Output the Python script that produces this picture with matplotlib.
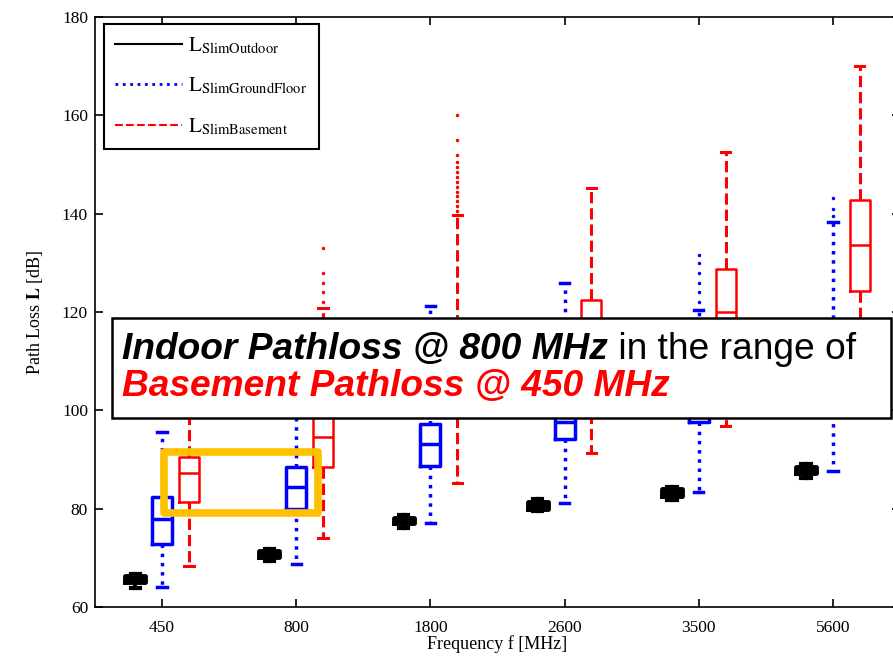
import numpy as np
import matplotlib.pyplot as plt
from matplotlib.lines import Line2D
from matplotlib.patches import Rectangle

plt.rcParams['font.family'] = 'Liberation Serif'
plt.rcParams['mathtext.fontset'] = 'stix'

freqs = ["450", "800", "1800", "2600", "3500", "5600"]

# box statistics: whisker low, q1, median, q3, whisker high
outdoor_lo = [63.9, 69.4, 76.0, 79.5, 81.8, 86.3]
outdoor_q1 = [65.0, 70.2, 77.0, 80.0, 82.6, 87.2]
outdoor_med = [65.7, 70.7, 77.5, 80.6, 83.2, 87.8]
outdoor_q3 = [66.3, 71.3, 78.2, 81.3, 83.9, 88.5]
outdoor_hi = [66.7, 71.8, 78.8, 82.0, 84.4, 89.0]

ground_lo = [64.0, 68.7, 77.0, 81.2, 83.4, 87.6]
ground_q1 = [72.8, 80.0, 88.7, 94.2, 97.6, 103.0]
ground_med = [77.8, 84.4, 93.2, 97.6, 103.0, 108.0]
ground_q3 = [82.3, 88.5, 97.2, 99.5, 108.0, 113.0]
ground_hi = [95.6, 104.0, 121.2, 126.0, 120.4, 138.3]
ground_out = [[], [], [], [], [122, 124, 126, 128, 130, 131.5], [139.5, 141, 143.2]]

base_lo = [68.3, 74.0, 85.2, 91.3, 96.8, 110.0]
base_q1 = [81.4, 88.5, 102.0, 103.0, 108.0, 124.3]
base_med = [87.2, 94.6, 108.0, 112.0, 120.0, 133.6]
base_q3 = [90.5, 101.0, 114.0, 122.4, 128.8, 142.8]
base_hi = [104.0, 120.8, 139.7, 145.2, 152.5, 170.1]
base_out = [[], [122, 124, 126, 128, 133],
            [140.5, 141.5, 142.5, 143.5, 144.5, 145.5, 146.5, 147.5, 148.5,
             149.5, 150.5, 152, 155, 160], [], [], []]


def make_stats(lo, q1, med, q3, hi, out=None):
    out = out or [[] for _ in lo]
    return [dict(whislo=a, q1=b, med=c, q3=d, whishi=e, fliers=f)
            for a, b, c, d, e, f in zip(lo, q1, med, q3, hi, out)]


fig = plt.figure(figsize=(8.93, 6.58), dpi=100)
ax = fig.add_axes([95 / 893, 51 / 658, 805 / 893, 590 / 658])
pos = np.arange(1, len(freqs) + 1)


def draw(stats, offset, color, ls, lw, wlw):
    ax.bxp(stats, positions=pos + offset, widths=0.15, capwidths=0.07,
           manage_ticks=False,
           boxprops=dict(color=color, linewidth=lw),
           medianprops=dict(color=color, linewidth=lw),
           whiskerprops=dict(color=color, linestyle=ls, linewidth=wlw),
           capprops=dict(color=color, linewidth=wlw),
           flierprops=dict(marker='.', markersize=3, markerfacecolor=color,
                           markeredgecolor=color))


draw(make_stats(outdoor_lo, outdoor_q1, outdoor_med, outdoor_q3, outdoor_hi),
     -0.2, 'black', '-', 3.5, 3)
draw(make_stats(ground_lo, ground_q1, ground_med, ground_q3, ground_hi, ground_out),
     0.0, 'blue', ':', 2.5, 2.5)
draw(make_stats(base_lo, base_q1, base_med, base_q3, base_hi, base_out),
     0.2, 'red', '--', 1.8, 2.2)

ax.set_xlim(0.5, 6.5)
ax.set_ylim(60, 180)
ax.set_xticks(pos)
ax.set_xticklabels(freqs)
ax.set_yticks(range(60, 181, 20))
ax.tick_params(direction='in', top=True, right=True, length=6, width=1.2,
               labelsize=12.5)
ax.tick_params(axis='x', pad=9)
ax.tick_params(axis='y', pad=5)
for s in ax.spines.values():
    s.set_linewidth(1.2)
ax.set_xlabel('Frequency f [MHz]', fontsize=13, labelpad=0)
ax.set_ylabel(r'Path Loss $\mathbf{L}$ [dB]', fontsize=13, labelpad=12)

handles = [Line2D([], [], color='black', ls='-', lw=1.5),
           Line2D([], [], color='blue', ls=':', lw=2),
           Line2D([], [], color='red', ls='--', lw=1.5)]
labels = [r'$\mathrm{L}_{\mathrm{SlimOutdoor}}$',
          r'$\mathrm{L}_{\mathrm{SlimGroundFloor}}$',
          r'$\mathrm{L}_{\mathrm{SlimBasement}}$']
leg = ax.legend(handles, labels, loc='upper left', bbox_to_anchor=(0.011, 0.988),
                borderaxespad=0, fancybox=False, edgecolor='black', fontsize=15,
                handlelength=3.2, handletextpad=0.3, labelspacing=0.95,
                borderpad=0.55, framealpha=1)
leg.get_frame().set_linewidth(1.5)

# orange highlight frame
ax.add_patch(Rectangle((1.014, 79.1), 1.148, 12.4, fill=False,
                       edgecolor='#FFC000', linewidth=5.5, joinstyle='round',
                       zorder=6))

# annotation box
fig.add_artist(Rectangle((112 / 893, (658 - 418) / 658), 779 / 893, 100 / 658,
                         transform=fig.transFigure, facecolor='white',
                         edgecolor='black', linewidth=1.8, zorder=5))
renderer = fig.canvas.get_renderer()
y1 = (658 - 359) / 658
y2 = (658 - 396) / 658
t1 = fig.text(122 / 893, y1, 'Indoor Pathloss @ 800 MHz', family='Liberation Sans',
              fontsize=26.7, fontweight='bold', fontstyle='italic', color='black',
              va='baseline', zorder=6)
bb = t1.get_window_extent(renderer)
fig.text(bb.x1 / fig.bbox.width, y1, ' in the range of', family='Liberation Sans',
         fontsize=26.7, color='black', va='baseline', zorder=6)
fig.text(122 / 893, y2, 'Basement Pathloss @ 450 MHz', family='Liberation Sans',
         fontsize=26.7, fontweight='bold', fontstyle='italic', color='red',
         va='baseline', zorder=6)

fig.savefig('out.png', dpi=100)
